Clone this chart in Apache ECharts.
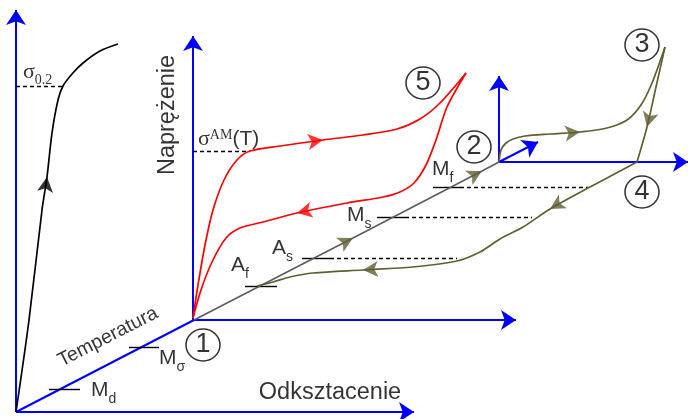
<!DOCTYPE html>
<html><head><meta charset="utf-8">
<script src="https://cdn.jsdelivr.net/npm/echarts@6/dist/echarts.min.js"></script>
<style>html,body{margin:0;padding:0;background:#fff}#c{width:688px;height:419px}</style>
</head><body><div id="c"></div>
<script>
// Schematic coordinates, in a 688 x 419 value space
const blackCurve = [[16,412],[29,320],[42,210],[47,177],[52,133],[58,100],[63,86],[72,74],[83,63],[100,51],[118,44]];
const upperRed = [[193,318],[198,285],[205,245],[213,210],[224,180],[237,160],[250,151],[280,146],[323,140],[363,135],[397,129],[420,119],[440,103],[466,73]];
const lowerRed = [[466,73],[447,107],[436,140],[426,165],[414,183],[400,192],[383,197],[347,203],[297,213],[263,222],[240,228],[226,238],[212,262],[201,290],[193,318]];
const diag12 = [[194,320],[353,238],[482,171],[499,162]];
const olive23 = [[499,162],[501,150],[506,143],[513,139],[525,136],[550,134],[580,132],[607,128],[627,120],[641,105],[652,83],[665,47]];
const olive34 = [[665,47],[656,87],[647,127],[637,162]];
const olive41 = [[637,162],[590,187],[550,209],[523,227],[500,239],[480,252],[457,261],[413,267],[363,270],[313,273],[290,277],[273,282],[257,286]];

const axesArrow = [[[16,412],[16,10]],[[16,412],[414,412]],[[193,320],[193,36]],[[193,320],[516,320]],[[499,162],[499,76]],[[499,162],[688,162]],[[499,162],[538,142]]];
const axesPlain = [[[16,412],[194,320]]];
const dashed = [[[16,86],[63,86]],[[193,151],[250,151]],[[460,187],[588,187]],[[405,217],[532,217]],[[330,258],[457,258]]];
const solidTicks = [[[433,187],[460,187]],[[377,217],[405,217]],[[302,258],[330,258]],[[245,286],[277,286]],[[49,389],[80,389]],[[129,347],[159,347]]];

// arrows on curves: [curve name, point index]
const curveArrows = [['black',3],['upperRed',8],['lowerRed',8],['diag12',1],['diag12',2],['olive23',6],['olive34',2],['olive41',2],['olive41',8]];

const circles = [['1',[203,345]],['5',[423,83]],['2',[474,147]],['3',[642,45]],['4',[642,192]]];
const subLabels = [['M','d',[91,393]],['M','σ',[159,361]],['M','f',[432,172]],['M','s',[347,218]],['A','s',[272,251]],['A','f',[231,268]]];

const curves = {black:blackCurve, upperRed:upperRed, lowerRed:lowerRed, diag12:diag12, olive23:olive23, olive34:olive34, olive41:olive41};
const colors = {black:'#000', upperRed:'#ff0000', lowerRed:'#ff0000', diag12:'#5c5c66', olive23:'#5f5f32', olive34:'#5f5f32', olive41:'#5f5f32'};
const arrowColors = {black:'#000', upperRed:'#ff0000', lowerRed:'#ff0000', diag12:'#5f5f32', olive23:'#5f5f32', olive34:'#5f5f32', olive41:'#5f5f32'};

const chart = echarts.init(document.getElementById('c'));
const series = [];
series.push({type:'lines',coordinateSystem:'cartesian2d',polyline:false,symbol:['none','arrow'],symbolSize:[12,15],
  lineStyle:{color:'#0000ff',width:2,opacity:1},data:axesArrow.map(c=>({coords:c})),z:2,silent:true});
series.push({type:'lines',coordinateSystem:'cartesian2d',symbol:'none',
  lineStyle:{color:'#0000ff',width:2,opacity:1},data:axesPlain.map(c=>({coords:c})),z:2,silent:true});
series.push({type:'lines',coordinateSystem:'cartesian2d',symbol:'none',
  lineStyle:{color:'#000',width:1.4,type:[4,3],opacity:1},data:dashed.map(c=>({coords:c})),z:3,silent:true});
series.push({type:'lines',coordinateSystem:'cartesian2d',symbol:'none',
  lineStyle:{color:'#000',width:1.4,opacity:1},data:solidTicks.map(c=>({coords:c})),z:3,silent:true});
Object.keys(curves).forEach(k=>{
  series.push({type:'line',data:curves[k],smooth:k.startsWith('diag')?false:0.3,showSymbol:false,symbol:'none',
    lineStyle:{color:colors[k],width:1.7},z:4,silent:true});
});
series.push({type:'scatter',symbol:'arrow',symbolSize:[12,15],z:5,silent:true,
  data:curveArrows.map(([k,i])=>{
    const p=curves[k], a=p[i-1], b=p[i+1];
    const dx=b[0]-a[0], dy=b[1]-a[1];
    return {value:p[i],symbolRotate:Math.atan2(-dx,-dy)*180/Math.PI,itemStyle:{color:arrowColors[k]}};
  })});
series.push({type:'scatter',symbol:'circle',symbolSize:[34,32],z:6,silent:true,
  itemStyle:{color:'#fff',borderColor:'#000',borderWidth:1.5},
  label:{show:true,position:'inside',fontFamily:'Liberation Sans, Arial',fontSize:27,color:'#000',formatter:p=>p.name},
  data:circles.map(([n,v])=>({name:n,value:v}))});
series.push({type:'scatter',symbolSize:0,z:7,silent:true,
  label:{show:true,position:'right',distance:0,fontFamily:'Liberation Sans, Arial',color:'#000',
    formatter:p=>'{m|'+p.data.m+'}{s|'+p.data.s+'}',
    rich:{m:{fontSize:21,fontFamily:'Liberation Sans',verticalAlign:'bottom',padding:[0,0,5,0]},s:{fontSize:14,fontFamily:'Liberation Sans',verticalAlign:'bottom'}}},
  data:subLabels.map(([m,s,v])=>({value:v,m:m,s:s}))});
// titles
series.push({type:'scatter',symbolSize:0,z:7,silent:true,
  data:[
    {value:[168,115],label:{show:true,position:'inside',rotate:90,fontSize:23.5,fontFamily:'Liberation Sans',color:'#000',formatter:'Naprężenie'}},
    {value:[108,337],label:{show:true,position:'inside',rotate:27,fontSize:19.5,fontFamily:'Liberation Sans',color:'#000',formatter:'Temperatura'}},
    {value:[330,393],label:{show:true,position:'inside',fontSize:23.5,fontFamily:'Liberation Sans',color:'#000',formatter:'Odksztacenie'}},
    {value:[23,74],label:{show:true,position:'right',distance:0,color:'#000',formatter:'{g|σ}{s|0.2}',
      rich:{g:{fontSize:22,fontFamily:'Liberation Serif',verticalAlign:'bottom',padding:[0,0,4,0]},s:{fontSize:14,fontFamily:'Liberation Serif',verticalAlign:'bottom'}}}},
    {value:[198,139],label:{show:true,position:'right',distance:0,color:'#000',formatter:'{g|σ}{u|AM}{t|(T)}',
      rich:{g:{fontSize:22,fontFamily:'Liberation Serif',verticalAlign:'bottom'},u:{fontSize:14,fontFamily:'Liberation Serif',verticalAlign:'bottom',padding:[0,0,8,0]},t:{fontSize:21,fontFamily:'Liberation Sans',verticalAlign:'bottom'}}}}
  ]});

chart.setOption({
  animation:false,
  grid:{left:0,right:0,top:0,bottom:0},
  xAxis:{type:'value',min:0,max:688,show:false},
  yAxis:{type:'value',min:0,max:419,inverse:true,show:false},
  series:series
});
</script></body></html>
